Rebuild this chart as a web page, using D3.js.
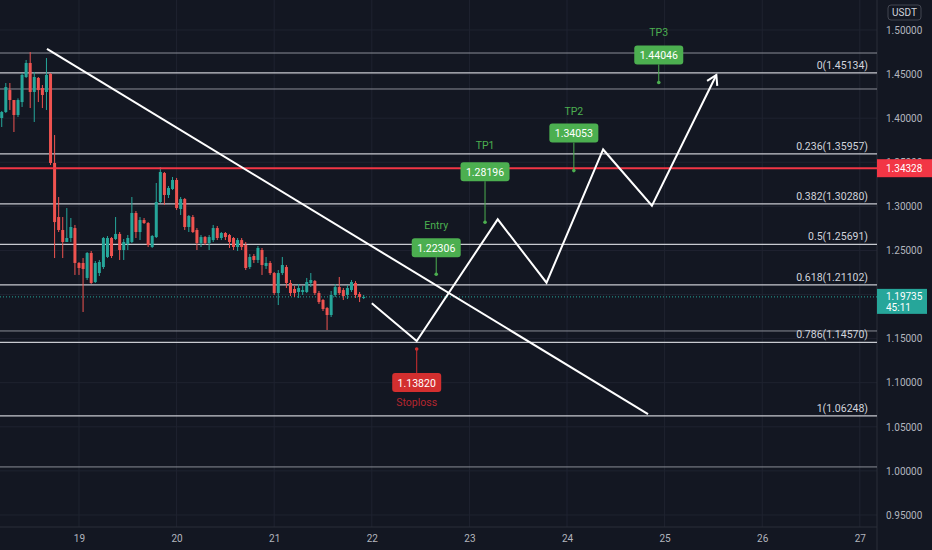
<!DOCTYPE html>
<html>
<head>
<meta charset="utf-8">
<script src="https://cdnjs.cloudflare.com/ajax/libs/d3/7.8.5/d3.min.js"></script>
<style>
  body { margin: 0; background: #131722; }
  text { font-family: Roboto, "Noto Sans", sans-serif; }
</style>
</head>
<body>
<div id="chart"></div>
<script>
// Section 1: Data
// ===========================

// hourly candles, first one on the 18th at 05:00
var firstCandleDay = 18 + 5 / 24;
var candleHours = 1 / 24;

var opens = [1.4002, 1.4070, 1.4319, 1.4206, 1.4036, 1.4183, 1.4467, 1.4626, 1.4297, 1.4456,
  1.4342, 1.4297, 1.4501, 1.3492, 1.2879, 1.2732, 1.2596, 1.2641, 1.2754, 1.2358,
  1.2358, 1.2188, 1.2471, 1.2142, 1.2244, 1.2312, 1.2426, 1.2641, 1.2630, 1.2687,
  1.2505, 1.2573, 1.2596, 1.2925, 1.2709, 1.2845, 1.2811, 1.2539, 1.2652, 1.3049,
  1.3378, 1.3129, 1.3197, 1.3299, 1.2970, 1.3083, 1.2766, 1.2879, 1.2732, 1.2584,
  1.2652, 1.2584, 1.2618, 1.2754, 1.2641, 1.2698, 1.2675, 1.2641, 1.2539, 1.2618,
  1.2562, 1.2312, 1.2437, 1.2392, 1.2505, 1.2324, 1.2358, 1.2244, 1.2017, 1.2244,
  1.2312, 1.2131, 1.2063, 1.2029, 1.2029, 1.2029, 1.2131, 1.2153, 1.2017, 1.1938,
  1.1847, 1.1768, 1.1995, 1.2085, 1.2051, 1.1995, 1.2051, 1.2131, 1.2006, 1.1961];
var highs = [1.4081, 1.4399, 1.4399, 1.4206, 1.4225, 1.4512, 1.4660, 1.4750, 1.4524, 1.4467,
  1.4376, 1.4682, 1.4512, 1.3809, 1.3106, 1.2879, 1.2981, 1.2868, 1.2789, 1.2369,
  1.2414, 1.2482, 1.2494, 1.2380, 1.2392, 1.2652, 1.2664, 1.2652, 1.2879, 1.2709,
  1.2630, 1.2675, 1.3106, 1.2947, 1.2879, 1.2868, 1.2822, 1.2675, 1.3265, 1.3446,
  1.3390, 1.3231, 1.3333, 1.3322, 1.3106, 1.3095, 1.2902, 1.2902, 1.2754, 1.2675,
  1.2664, 1.2675, 1.2789, 1.2777, 1.2709, 1.2709, 1.2687, 1.2652, 1.2641, 1.2641,
  1.2596, 1.2460, 1.2460, 1.2550, 1.2528, 1.2426, 1.2380, 1.2256, 1.2278, 1.2426,
  1.2335, 1.2165, 1.2097, 1.2119, 1.2097, 1.2188, 1.2244, 1.2165, 1.2040, 1.1949,
  1.1859, 1.2040, 1.2119, 1.2199, 1.2074, 1.2108, 1.2165, 1.2153, 1.2029, 1.1995];
var lows = [1.3900, 1.4059, 1.4093, 1.3843, 1.4013, 1.4127, 1.4456, 1.4115, 1.3957, 1.4183,
  1.4115, 1.4093, 1.3469, 1.2414, 1.2709, 1.2414, 1.2596, 1.2596, 1.2222, 1.2222,
  1.1802, 1.2165, 1.2120, 1.2131, 1.2210, 1.2290, 1.2414, 1.2414, 1.2618, 1.2392,
  1.2392, 1.2505, 1.2584, 1.2641, 1.2618, 1.2800, 1.2539, 1.2528, 1.2641, 1.3038,
  1.3015, 1.3095, 1.3185, 1.2959, 1.2902, 1.2732, 1.2709, 1.2698, 1.2505, 1.2539,
  1.2562, 1.2505, 1.2596, 1.2618, 1.2618, 1.2618, 1.2528, 1.2505, 1.2494, 1.2505,
  1.2278, 1.2290, 1.2358, 1.2358, 1.2222, 1.2290, 1.2222, 1.1995, 1.1881, 1.2222,
  1.2074, 1.1983, 1.1972, 1.1961, 1.1995, 1.2017, 1.2085, 1.1995, 1.1893, 1.1813,
  1.1598, 1.1745, 1.1972, 1.1995, 1.1938, 1.1949, 1.2029, 1.1961, 1.1915, 1.1949];
var closes = [1.4070, 1.4353, 1.4206, 1.4036, 1.4206, 1.4490, 1.4626, 1.4297, 1.4467, 1.4319,
  1.4263, 1.4490, 1.3492, 1.2822, 1.2732, 1.2596, 1.2641, 1.2766, 1.2358, 1.2301,
  1.2290, 1.2471, 1.2131, 1.2358, 1.2369, 1.2641, 1.2641, 1.2437, 1.2687, 1.2505,
  1.2596, 1.2641, 1.2925, 1.2709, 1.2845, 1.2811, 1.2562, 1.2664, 1.3049, 1.3390,
  1.3129, 1.3208, 1.3299, 1.2981, 1.3083, 1.2766, 1.2891, 1.2709, 1.2584, 1.2652,
  1.2584, 1.2652, 1.2754, 1.2641, 1.2698, 1.2652, 1.2596, 1.2539, 1.2618, 1.2539,
  1.2301, 1.2426, 1.2392, 1.2528, 1.2335, 1.2358, 1.2244, 1.2017, 1.2244, 1.2335,
  1.2131, 1.2017, 1.2017, 1.2074, 1.2051, 1.2142, 1.2165, 1.2017, 1.1915, 1.1836,
  1.1768, 1.1995, 1.2085, 1.2017, 1.1983, 1.2074, 1.2142, 1.1995, 1.1972, 1.19735];

// axis ticks (1.20000 sits under the last price tag, so it is not labelled)
var priceTicks = [0.95, 1.00, 1.05, 1.10, 1.15, 1.20, 1.25, 1.30, 1.35, 1.40, 1.45, 1.50];
var priceLabels = [0.95, 1.00, 1.05, 1.10, 1.15, 1.25, 1.30, 1.35, 1.40, 1.45, 1.50];
var dayTicks = [19, 20, 21, 22, 23, 24, 25, 26, 27];

// fibonacci retracement
var fibLevels = [0, 0.236, 0.382, 0.5, 0.618, 0.786, 1];
var fibPrices = [1.45134, 1.35957, 1.30280, 1.25691, 1.21102, 1.14570, 1.06248];

// other plain horizontal lines
var extraLines = [1.4739, 1.4331, 1.1587, 1.0045];

var redLevel = 1.34328;
var lastPrice = 1.19735;
var countdown = "45:11";

// falling trend line
var trendDays = [18.672, 24.83];
var trendPrices = [1.4785, 1.0645];

// projected path
var pathDays = [22.0, 22.46, 23.29, 23.79, 24.37, 24.87, 25.53];
var pathPrices = [1.1901, 1.1473, 1.2853, 1.2134, 1.3645, 1.3008, 1.4490];

// trade targets
var targetNames = ["Entry", "TP1", "TP2", "TP3", "Stoploss"];
var targetDays = [22.66, 23.16, 24.07, 24.94, 22.46];
var targetPrices = [1.22306, 1.28196, 1.34053, 1.44046, 1.13820];

// Section 2: Setup
// ===========================
var width = 932;
var height = 550;
var plotRight = 877;
var plotBottom = 527;

var green = "#4caf50";
var up = "#26a69a";
var down = "#ef5350";

var svg = d3.select("#chart")
  .append("svg")
  .attr("width", width)
  .attr("height", height)
  .style("display", "block");

svg.append("rect")
  .attr("width", width)
  .attr("height", height)
  .attr("fill", "#131722");

var x = d3.scaleLinear().domain([18.1906, 27.176]).range([0, plotRight]);
var y = d3.scaleLinear().domain([0.93638, 1.53402]).range([plotBottom, 0]);

// grid
svg.append("g").selectAll("line")
  .data(priceTicks)
  .enter()
  .append("line")
  .attr("x1", 0)
  .attr("x2", plotRight)
  .attr("y1", d => y(d))
  .attr("y2", d => y(d))
  .attr("stroke", "#1f2330");

svg.append("g").selectAll("line")
  .data(dayTicks)
  .enter()
  .append("line")
  .attr("x1", d => x(d))
  .attr("x2", d => x(d))
  .attr("y1", 0)
  .attr("y2", plotBottom)
  .attr("stroke", "#1f2330");

// axes
var rightAxis = d3.axisRight(y)
  .tickValues(priceLabels)
  .tickFormat(d3.format(".5f"))
  .tickSize(0)
  .tickPadding(9);

var bottomAxis = d3.axisBottom(x)
  .tickValues(dayTicks)
  .tickFormat(d => d)
  .tickSize(0)
  .tickPadding(8);

var yAxis = svg.append("g")
  .attr("transform", `translate(${plotRight}, 0)`)
  .call(rightAxis);

var xAxis = svg.append("g")
  .attr("transform", `translate(0, ${plotBottom})`)
  .call(bottomAxis);

[yAxis, xAxis].forEach(function(g) {
  g.select(".domain").remove();
  g.selectAll("text")
    .attr("fill", "#b2b5be")
    .style("font-size", "10px");
});

svg.append("line")
  .attr("x1", plotRight).attr("x2", plotRight)
  .attr("y1", 0).attr("y2", height)
  .attr("stroke", "#2a2e39");

svg.append("line")
  .attr("x1", 0).attr("x2", plotRight)
  .attr("y1", plotBottom).attr("y2", plotBottom)
  .attr("stroke", "#2a2e39");

// currency badge
svg.append("rect")
  .attr("x", 888).attr("y", 5)
  .attr("width", 33).attr("height", 15)
  .attr("rx", 3)
  .attr("fill", "none")
  .attr("stroke", "#434651");

svg.append("text")
  .attr("x", 904.5).attr("y", 16)
  .attr("text-anchor", "middle")
  .attr("fill", "#d1d4dc")
  .style("font-size", "10px")
  .text("USDT");

// Section 3: Horizontal lines
// ===========================
svg.append("g").selectAll("line")
  .data(extraLines)
  .enter()
  .append("line")
  .attr("x1", 0)
  .attr("x2", plotRight)
  .attr("y1", d => y(d))
  .attr("y2", d => y(d))
  .attr("stroke", "#8a8d96")
  .attr("stroke-width", 1);

var fibGroup = svg.append("g");

fibGroup.selectAll("line")
  .data(fibPrices)
  .enter()
  .append("line")
  .attr("x1", 0)
  .attr("x2", plotRight)
  .attr("y1", d => y(d))
  .attr("y2", d => y(d))
  .attr("stroke", "#c8cad0")
  .attr("stroke-width", 1.3);

fibGroup.selectAll("text")
  .data(fibPrices)
  .enter()
  .append("text")
  .attr("x", 868)
  .attr("y", d => y(d) - 4)
  .attr("text-anchor", "end")
  .attr("fill", "#d1d4dc")
  .style("font-size", "10.5px")
  .text((d, i) => `${fibLevels[i]}(${d.toFixed(5)})`);

// current price, dotted
svg.append("line")
  .attr("x1", 0)
  .attr("x2", plotRight)
  .attr("y1", y(lastPrice))
  .attr("y2", y(lastPrice))
  .attr("stroke", up)
  .attr("stroke-dasharray", "1,2");

// Section 4: Candles
// ===========================
var candles = opens.map(function(o, i) {
  return { t: firstCandleDay + i * candleHours, o: o, h: highs[i], l: lows[i], c: closes[i] };
});

var candleGroup = svg.append("g");

candleGroup.selectAll("line")
  .data(candles)
  .enter()
  .append("line")
  .attr("x1", d => x(d.t))
  .attr("x2", d => x(d.t))
  .attr("y1", d => y(d.h))
  .attr("y2", d => y(d.l))
  .attr("stroke", d => d.c >= d.o ? up : down);

candleGroup.selectAll("rect")
  .data(candles)
  .enter()
  .append("rect")
  .attr("x", d => x(d.t) - 1.5)
  .attr("width", 3)
  .attr("y", d => y(Math.max(d.o, d.c)))
  .attr("height", d => Math.max(1, Math.abs(y(d.o) - y(d.c))))
  .attr("fill", d => d.c >= d.o ? up : down);

// red level
svg.append("line")
  .attr("x1", 0)
  .attr("x2", plotRight)
  .attr("y1", y(redLevel))
  .attr("y2", y(redLevel))
  .attr("stroke", "#f23645")
  .attr("stroke-width", 2);

// Section 5: Drawings
// ===========================
var line = d3.line()
  .x(d => x(d[0]))
  .y(d => y(d[1]));

svg.append("path")
  .datum(d3.zip(trendDays, trendPrices))
  .attr("d", line)
  .attr("fill", "none")
  .attr("stroke", "#ffffff")
  .attr("stroke-width", 2);

var pathPoints = d3.zip(pathDays, pathPrices);

svg.append("path")
  .datum(pathPoints)
  .attr("d", line)
  .attr("fill", "none")
  .attr("stroke", "#ffffff")
  .attr("stroke-width", 2)
  .attr("stroke-linejoin", "miter");

// arrow head on the last leg
var tip = pathPoints[pathPoints.length - 1];
var prev = pathPoints[pathPoints.length - 2];
var tx = x(tip[0]), ty = y(tip[1]);
var ang = Math.atan2(ty - y(prev[1]), tx - x(prev[0]));
var wing = 11;
svg.append("path")
  .attr("d", `M${tx + wing * Math.cos(ang + 2.6)},${ty + wing * Math.sin(ang + 2.6)}L${tx},${ty}L${tx + wing * Math.cos(ang - 2.6)},${ty + wing * Math.sin(ang - 2.6)}`)
  .attr("fill", "none")
  .attr("stroke", "#ffffff")
  .attr("stroke-width", 2);

// target boxes: distance from the dot to the box, and gap to the name above
var stemLen = [17, 41, 28, 18, 24];
var nameGap = [13, 17, 13, 14, 14];
var boxW = 49, boxH = 19;

targetNames.forEach(function(name, i) {
  var cx = x(targetDays[i]);
  var cy = y(targetPrices[i]);
  var isStop = name === "Stoploss";
  var col = isStop ? "#d32f2f" : green;
  var boxTop = isStop ? cy + stemLen[i] : cy - stemLen[i] - boxH;
  var g = svg.append("g");

  g.append("line")
    .attr("x1", cx).attr("x2", cx)
    .attr("y1", cy)
    .attr("y2", isStop ? boxTop : boxTop + boxH)
    .attr("stroke", col);

  g.append("circle")
    .attr("cx", cx).attr("cy", cy)
    .attr("r", 1.8)
    .attr("fill", col);

  g.append("rect")
    .attr("x", cx - boxW / 2)
    .attr("y", boxTop)
    .attr("width", boxW)
    .attr("height", boxH)
    .attr("rx", 3)
    .attr("fill", col);

  g.append("text")
    .attr("x", cx)
    .attr("y", boxTop + 13.5)
    .attr("text-anchor", "middle")
    .attr("fill", "#ffffff")
    .style("font-size", "10.5px")
    .text(targetPrices[i].toFixed(5));

  g.append("text")
    .attr("x", cx)
    .attr("y", isStop ? boxTop + boxH + nameGap[i] : boxTop - nameGap[i] + 4)
    .attr("text-anchor", "middle")
    .attr("fill", isStop ? "#b3262f" : green)
    .style("font-size", "10.5px")
    .text(name);
});

// Section 6: Price tags on the axis
// ===========================
svg.append("rect")
  .attr("x", plotRight)
  .attr("y", y(redLevel) - 9)
  .attr("width", 55)
  .attr("height", 18)
  .attr("fill", "#f23645");

svg.append("text")
  .attr("x", plotRight + 9)
  .attr("y", y(redLevel) + 4)
  .attr("fill", "#ffffff")
  .style("font-size", "10px")
  .text(redLevel.toFixed(5));

svg.append("rect")
  .attr("x", plotRight)
  .attr("y", y(lastPrice) - 8)
  .attr("width", 50)
  .attr("height", 25)
  .attr("fill", up);

svg.append("text")
  .attr("x", plotRight + 9)
  .attr("y", y(lastPrice) + 3.5)
  .attr("fill", "#ffffff")
  .style("font-size", "10px")
  .text(lastPrice.toFixed(5));

svg.append("text")
  .attr("x", plotRight + 9)
  .attr("y", y(lastPrice) + 14.5)
  .attr("fill", "#ffffff")
  .style("font-size", "10px")
  .text(countdown);
</script>
</body>
</html>
